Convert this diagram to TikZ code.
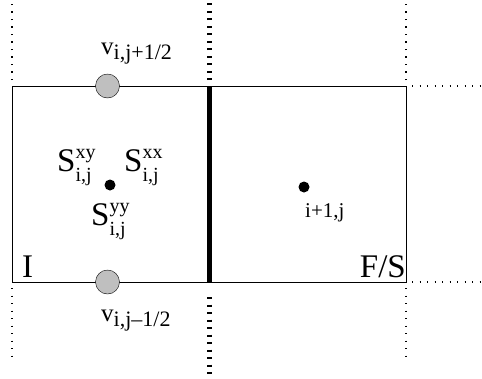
\documentclass[tikz,border=0pt]{standalone}
\usepackage{fontspec}
\setmainfont{Liberation Serif}
\newcommand{\fs}[1]{\fontsize{#1}{#1}\selectfont}
\def\Sten#1{{\fs{33}S}\rlap{\raisebox{-10pt}{\fs{20}i,j}}\raisebox{13pt}{\fs{20}#1}}
\def\vlab#1{{\fs{25}v}\raisebox{-5pt}{\fs{22}#1}}

\begin{document}
\begin{tikzpicture}[x=1pt,y=-1pt,
    cell/.style={line width=0.8pt},
    ext/.style={line width=1.2pt,dash pattern=on 1.2pt off 6.3pt},
    wall/.style={line width=5pt},
    walldash/.style={line width=5pt,dash pattern=on 2pt off 5.5pt},
    vnode/.style={circle,draw,thin,fill=black!25,minimum size=24pt,inner sep=0pt},
    pnode/.style={circle,fill=black,minimum size=11pt,inner sep=0pt},
    lab/.style={inner sep=0pt,anchor=base west}]
    \useasboundingbox (0,0) rectangle (482,378);
    % cell corners
    \coordinate (nw) at (12,86);
    \coordinate (sw) at (12,282);
    \coordinate (ne) at (406,86);
    \coordinate (se) at (406,282);
    \coordinate (n) at (209.5,86);
    \coordinate (s) at (209.5,282);
    \draw[cell] (nw) rectangle (se);
    \draw[wall] (n) -- (s);
    % extensions
    \draw[ext] (12,80) -- (12,3);
    \draw[ext] (12,288) -- (12,362);
    \draw[ext] (406,80) -- (406,3);
    \draw[ext] (406,288) -- (406,362);
    \draw[ext] (412,86) -- (482,86);
    \draw[ext] (412,282) -- (482,282);
    \draw[walldash] (209.5,80) -- (209.5,1);
    \draw[walldash] (209.5,297) -- (209.5,376);
    % velocity nodes
    \node[vnode] (vt) at (107.5,86) {};
    \node[vnode] (vb) at (107.5,282) {};
    \node[lab] (vtl) at (101,54) {\vlab{i,j+1/2}};
    \node[lab] (vbl) at (101,321) {\vlab{i,j\textendash1/2}};
    % pressure nodes
    \node[pnode] (p) at (110,185) {};
    \node[pnode] (q) at (304,187) {};
    \node[lab] (sxy) at (57,171) {\Sten{xy}};
    \node[lab] (sxx) at (124,171) {\Sten{xx}};
    \node[lab] (syy) at (91,225) {\Sten{yy}};
    \node[lab] (ql) at (305,217) {\fs{21}i+1,j};
    % phases
    \node[lab] (I) at (22,277) {\fs{33}I};
    \node[inner sep=0pt,anchor=base east] (FS) at (406,277) {\fs{33}F/S};
\end{tikzpicture}
\end{document}
